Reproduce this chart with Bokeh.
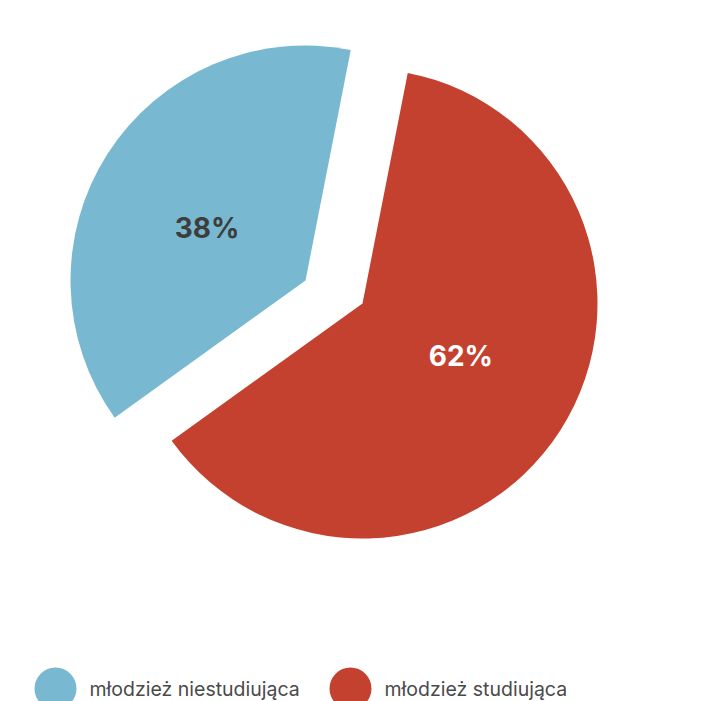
import math
from bokeh.plotting import figure
from bokeh.models import Range1d
from bokeh.core.properties import value
from bokeh.embed import file_html
from bokeh.resources import INLINE

categories = ["młodzież niestudiująca", "młodzież studiująca"]
shares = [38, 62]
colors = ["#78b9d1", "#c5412f"]
label_colors = ["#3d3d3d", "#ffffff"]

W, H = 713, 701
p = figure(width=W, height=H, output_backend="svg", toolbar_location=None,
           x_range=Range1d(0, W), y_range=Range1d(0, H), min_border=0)
p.axis.visible = False
p.grid.visible = False
p.outline_line_color = None
p.background_fill_color = "white"

R = 235
split = math.radians(78.9)  # boundary between the slices
total = sum(shares)
# centres of the (exploded) slices, in chart units
centres = [(305, H - 280), (362, H - 303)]
spans = [2 * math.pi * s / total for s in shares]
angles = [(split, split + spans[0]), (split - spans[1], split)]
label_shift = math.radians(4.5)

for i in range(2):
    cx, cy = centres[i]
    a0, a1 = angles[i]
    p.wedge(x=[cx], y=[cy], radius=R, start_angle=[a0], end_angle=[a1],
            fill_color=colors[i], line_color=None)
    mid = (a0 + a1) / 2 + label_shift
    lx = cx + 0.475 * R * math.cos(mid)
    ly = cy + 0.475 * R * math.sin(mid)
    p.text(x=[lx], y=[ly], text=[f"{shares[i]}%"], text_align="center",
           text_baseline="middle", text_font=value("Inter"),
           text_font_style="bold", text_font_size="28px",
           text_color=label_colors[i])

# legend
leg_x = [55, 350]
leg_y = H - 688
for i in range(2):
    p.scatter(x=[leg_x[i]], y=[leg_y], size=42, marker="circle",
              fill_color=colors[i], line_color=None)
    p.text(x=[leg_x[i] + 34], y=[leg_y], text=[categories[i]],
           text_align="left", text_baseline="middle",
           text_font=value("Inter"), text_font_size="19.5px",
           text_color="#4a4a4a")

open("out.html", "w").write(file_html(p, INLINE))
